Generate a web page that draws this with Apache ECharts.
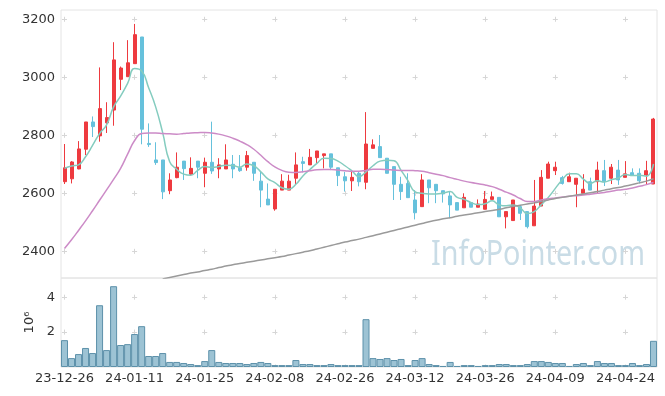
<!DOCTYPE html>
<html><head><meta charset="utf-8">
<script src="https://cdn.jsdelivr.net/npm/echarts@6/dist/echarts.min.js"></script>
<style>html,body{margin:0;padding:0;background:#fff}#c{width:665px;height:396px}</style>
</head><body><div id="c"></div>
<script>
const dates = ['23-12-26','23-12-27','23-12-28',
'24-01-02','24-01-03','24-01-04','24-01-05','24-01-08','24-01-09','24-01-10','24-01-11','24-01-12','24-01-15','24-01-16','24-01-17','24-01-18','24-01-19','24-01-22','24-01-23','24-01-24','24-01-25','24-01-26','24-01-29','24-01-30','24-01-31',
'24-02-01','24-02-02','24-02-05','24-02-06','24-02-07','24-02-08','24-02-13','24-02-14','24-02-15','24-02-16','24-02-19','24-02-20','24-02-21','24-02-22','24-02-23','24-02-26','24-02-27','24-02-28','24-02-29',
'24-03-04','24-03-05','24-03-06','24-03-07','24-03-08','24-03-11','24-03-12','24-03-13','24-03-14','24-03-15','24-03-18','24-03-19','24-03-20','24-03-21','24-03-22','24-03-25','24-03-26','24-03-27','24-03-28','24-03-29',
'24-04-01','24-04-02','24-04-03','24-04-04','24-04-05','24-04-08','24-04-09','24-04-11','24-04-12','24-04-15','24-04-16','24-04-17','24-04-18','24-04-19','24-04-22','24-04-23','24-04-24','24-04-25','24-04-26','24-04-29','24-04-30'];

const opens = [2640,2650,2684,2752,2846,2798,2843,2887,2993,3002,
3047,3139,2772,2715,2715,2609,2654,2711,2666,2711,
2669,2707,2684,2684,2700,2688,2690,2707,2642,2580,
2546,2611,2611,2652,2709,2698,2723,2730,2736,2688,
2657,2643,2669,2638,2755,2761,2721,2692,2631,2634,
2577,2554,2646,2631,2609,2591,2568,2550,2568,2552,
2545,2579,2586,2519,2506,2554,2537,2488,2556,2652,
2678,2654,2640,2631,2600,2640,2640,2678,2652,2680,
2655,2671,2669,2663,2632];

const closes = [2688,2708,2753,2846,2830,2892,2861,3060,3032,3050,
3147,2821,2768,2706,2605,2646,2690,2685,2686,2690,
2707,2677,2698,2715,2684,2678,2730,2669,2611,2560,
2614,2642,2642,2698,2703,2724,2746,2736,2690,2661,
2643,2655,2640,2770,2767,2723,2669,2631,2606,2585,
2533,2646,2619,2609,2598,2560,2542,2586,2552,2563,
2579,2588,2519,2537,2577,2531,2485,2556,2655,2701,
2690,2634,2657,2652,2614,2611,2680,2640,2690,2646,
2667,2662,2643,2678,2856];

const lows = [2632,2634,2683,2732,2794,2778,2808,2833,2956,3002,
3047,2769,2760,2698,2580,2597,2652,2646,2663,2652,
2621,2667,2652,2684,2652,2674,2678,2643,2552,2560,
2540,2611,2611,2629,2672,2698,2703,2686,2680,2625,
2606,2608,2624,2614,2755,2723,2669,2577,2577,2585,
2510,2554,2566,2566,2568,2514,2542,2550,2552,2552,
2545,2579,2519,2479,2506,2508,2479,2488,2556,2652,
2663,2630,2640,2552,2600,2611,2600,2625,2632,2629,
2655,2660,2634,2629,2632];

const highs = [2770,2711,2780,2846,2865,3034,2914,3121,3037,3128,
3184,3139,2841,2776,2715,2669,2741,2711,2724,2711,
2723,2847,2721,2769,2732,2732,2746,2707,2674,2634,
2614,2666,2664,2741,2726,2753,2746,2736,2736,2688,
2674,2674,2674,2880,2786,2801,2721,2692,2657,2669,
2611,2666,2646,2631,2609,2606,2568,2600,2568,2579,
2608,2606,2586,2537,2577,2560,2537,2646,2680,2709,
2709,2660,2671,2652,2666,2654,2709,2715,2701,2715,
2711,2686,2686,2712,2860];

// volume in units of 10^6
const volumes = [1.54,0.51,0.74,1.09,0.80,3.54,0.97,4.63,1.26,1.31,
1.89,2.34,0.63,0.63,0.80,0.29,0.29,0.23,0.17,0.11,
0.34,0.97,0.29,0.23,0.23,0.23,0.17,0.23,0.29,0.23,
0.11,0.11,0.11,0.40,0.17,0.17,0.11,0.11,0.17,0.11,
0.11,0.11,0.11,2.74,0.51,0.46,0.51,0.40,0.46,0.11,
0.40,0.51,0.17,0.11,0.06,0.29,0.06,0.11,0.11,0.06,
0.11,0.11,0.17,0.17,0.11,0.11,0.17,0.34,0.34,0.29,
0.23,0.23,0.06,0.17,0.23,0.11,0.34,0.23,0.23,0.11,
0.11,0.23,0.11,0.17,1.50];

const ma5 = [2686,2694,2698,2726,2765,2806,2836,2898,2935,2979,
3030,3022,2964,2898,2809,2709,2683,2666,2662,2679,
2692,2689,2692,2697,2696,2690,2701,2695,2674,2650,
2637,2619,2614,2631,2660,2682,2703,2721,2720,2711,
2695,2677,2658,2674,2695,2711,2714,2712,2679,2643,
2605,2600,2598,2598,2601,2606,2586,2579,2568,2561,
2564,2574,2560,2557,2560,2550,2530,2537,2561,2586,
2617,2647,2667,2667,2649,2634,2643,2639,2647,2653,
2665,2661,2662,2659,2701];

const ma20 = [2410,2440,2472,2505,2540,2576,2612,2648,2686,2735,
2782,2806,2808,2808,2806,2805,2804,2806,2808,2809,
2810,2808,2804,2798,2790,2780,2768,2752,2731,2709,
2691,2679,2673,2672,2674,2678,2681,2682,2682,2680,
2678,2676,2676,2679,2683,2683,2682,2680,2679,2679,
2678,2676,2671,2666,2661,2654,2648,2642,2637,2633,
2629,2623,2614,2604,2594,2582,2572,2572,2577,2581,
2584,2587,2590,2592,2594,2597,2600,2603,2607,2611,
2614,2618,2624,2630,2637];

const maLong = ['-','-','-','-','-','-','-','-','-','-',
'-','-','-','-',2305,2310,2315,2320,2325,2329,
2334,2338,2344,2349,2354,2358,2362,2366,2370,2374,
2378,2382,2387,2392,2397,2402,2408,2414,2420,2426,
2432,2437,2442,2448,2454,2460,2466,2472,2478,2484,
2490,2496,2502,2507,2512,2516,2521,2525,2529,2533,
2537,2541,2545,2550,2555,2559,2563,2567,2572,2577,
2582,2586,2590,2594,2598,2602,2606,2611,2616,2620,
2625,2630,2636,2642,2650];

const priceTicks = [2400, 2600, 2800, 3000, 3200];
const volumeTicks = [2, 4];
const volumeAxisName = '10⁶';
const watermarkText = 'InfoPointer.com';

const candles = dates.map((d, i) => [opens[i], closes[i], lows[i], highs[i]]);

const crossColor = '#d6d6d6';
const upColor = '#ee3a3f';
const downColor = '#66c1dc';
const FONT = 'DejaVu Sans';
const plain = v => String(v);

const chart = echarts.init(document.getElementById('c'), null, {renderer: 'canvas'});
chart.setOption({
  animation: false,
  backgroundColor: '#ffffff',
  textStyle: {fontFamily: FONT},
  grid: [
    {left: 61, right: 8, top: 10, height: 268, show: true, borderColor: '#e4e4e4', borderWidth: 1},
    {left: 61, right: 8, top: 278, height: 89, show: true, borderColor: '#e4e4e4', borderWidth: 1}
  ],
  xAxis: [
    {type: 'category', gridIndex: 0, data: dates, boundaryGap: true,
     axisLine: {show: false}, axisTick: {show: false}, axisLabel: {show: false},
     splitLine: {show: true, interval: 9, alignWithLabel: true,
       lineStyle: {color: crossColor, width: 1, type: [5, 53.01], dashOffset: 51.23}}},
    {type: 'category', gridIndex: 1, data: dates, boundaryGap: true,
     axisLine: {show: false}, axisTick: {show: false},
     axisLabel: {interval: 9, fontSize: 13, color: '#333', margin: 5, fontFamily: FONT},
     splitLine: {show: true, interval: 9, alignWithLabel: true,
       lineStyle: {color: crossColor, width: 1, type: [5, 29.9], dashOffset: 18.2}}}
  ],
  yAxis: [
    {type: 'value', gridIndex: 0, min: 2308, max: 3232,
     axisLine: {show: false}, axisTick: {show: false, customValues: priceTicks},
     axisLabel: {customValues: priceTicks, formatter: plain, fontSize: 13, color: '#333', margin: 6, fontFamily: FONT},
     splitLine: {show: true, lineStyle: {color: crossColor, width: 1, type: [5, 65.12], dashOffset: 69.12}}},
    {type: 'value', gridIndex: 1, min: 0, max: 5.1,
     name: volumeAxisName, nameLocation: 'middle', nameRotate: 90, nameGap: 24,
     nameTextStyle: {fontSize: 13, color: '#333', fontFamily: FONT},
     axisLine: {show: false}, axisTick: {show: false, customValues: volumeTicks},
     axisLabel: {customValues: volumeTicks, formatter: plain, fontSize: 13, color: '#333', margin: 6, fontFamily: FONT},
     splitLine: {show: true, lineStyle: {color: crossColor, width: 1, type: [5, 65.12], dashOffset: 69.12}}}
  ],
  graphic: [
    {type: 'text', x: 431, y: 255, scaleX: 0.82, z: 0, silent: true,
     style: {text: watermarkText, font: '35px "Noto Sans"', fill: '#c9dce6', textVerticalAlign: 'middle', textAlign: 'left'}}
  ],
  series: [
    {type: 'candlestick', xAxisIndex: 0, yAxisIndex: 0, data: candles, barWidth: 3.5,
     itemStyle: {color: upColor, color0: downColor, borderColor: upColor, borderColor0: downColor, borderWidth: 1}},
    {type: 'line', xAxisIndex: 0, yAxisIndex: 0, data: ma5, smooth: true, showSymbol: false,
     lineStyle: {color: '#84ccbf', width: 1.5}, z: 3},
    {type: 'line', xAxisIndex: 0, yAxisIndex: 0, data: ma20, smooth: true, showSymbol: false,
     lineStyle: {color: '#cc8bc7', width: 1.5}, z: 3},
    {type: 'line', xAxisIndex: 0, yAxisIndex: 0, data: maLong, smooth: true, showSymbol: false,
     lineStyle: {color: '#9a9a9a', width: 1.5}, z: 3},
    {type: 'bar', xAxisIndex: 1, yAxisIndex: 1, data: volumes, barCategoryGap: '0%',
     itemStyle: {color: '#9dc3d4', borderColor: '#5d91aa', borderWidth: 1}}
  ]
});
</script>
</body></html>
